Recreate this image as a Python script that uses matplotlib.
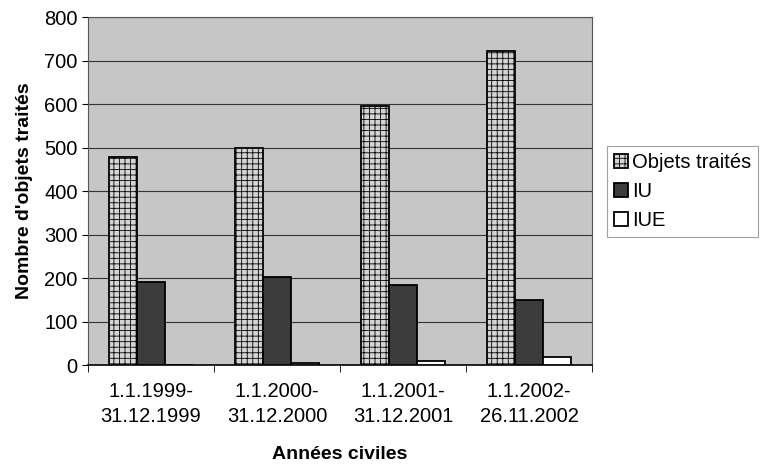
import matplotlib.pyplot as plt
import numpy as np

plt.rcParams["font.family"] = ["Liberation Sans", "DejaVu Sans"]
plt.rcParams["hatch.color"] = "#b4b4b4"
plt.rcParams["hatch.linewidth"] = 0.6

periods = ["1.1.1999-\n31.12.1999", "1.1.2000-\n31.12.2000",
           "1.1.2001-\n31.12.2001", "1.1.2002-\n26.11.2002"]
objets = [478, 500, 595, 722]
iu = [190, 203, 185, 150]
iue = [0, 5, 10, 18]

fig = plt.figure(figsize=(7.65, 4.7), dpi=100)
ax = fig.add_axes([0.115, 0.2234, 0.659, 0.7404])
ax.set_facecolor("#c6c6c6")

x = np.arange(len(periods))
w = 2 / 9
ax.bar(x - w, objets, w, color="#d4d4d4", edgecolor="black", linewidth=1.3,
       hatch="+++", label="Objets traités", zorder=3)
ax.bar(x, iu, w, color="#3c3c3c", edgecolor="black", linewidth=1.3,
       label="IU", zorder=3)
ax.bar(x + w, iue, w, color="white", edgecolor="black", linewidth=1.3,
       label="IUE", zorder=3)

ax.set_ylim(0, 800)
ax.set_yticks(range(0, 801, 100))
ax.set_xlim(-0.5, 3.5)
ax.set_xticks(x)
ax.set_xticklabels(periods, linespacing=1.45)
ax.set_xticks(np.arange(-0.5, 4, 1), minor=True)
ax.tick_params(axis="x", which="major", length=0, labelsize=14.5, pad=12)
ax.tick_params(axis="x", which="minor", length=5, direction="out")
ax.tick_params(axis="y", labelsize=14.5, length=4)
ax.yaxis.grid(True, color="#333333", linewidth=0.8, zorder=1)
ax.set_axisbelow(True)
for s in ax.spines.values():
    s.set_color("#555555")
    s.set_linewidth(0.8)
ax.spines["bottom"].set_color("black")
ax.spines["bottom"].set_linewidth(1.2)

ax.set_ylabel("Nombre d'objets traités", fontsize=14, fontweight="bold", labelpad=8)
ax.set_xlabel("Années civiles", fontsize=14, fontweight="bold", labelpad=14)

leg = ax.legend(loc="upper left", bbox_to_anchor=(0.793, 0.69),
                bbox_transform=fig.transFigure, fontsize=14.5, frameon=True,
                fancybox=False, edgecolor="#888888", handlelength=0.7,
                handleheight=0.7, handletextpad=0.2, borderpad=0.35,
                labelspacing=0.5, borderaxespad=0)
leg.get_frame().set_linewidth(0.8)

plt.savefig("out.png", dpi=100)
